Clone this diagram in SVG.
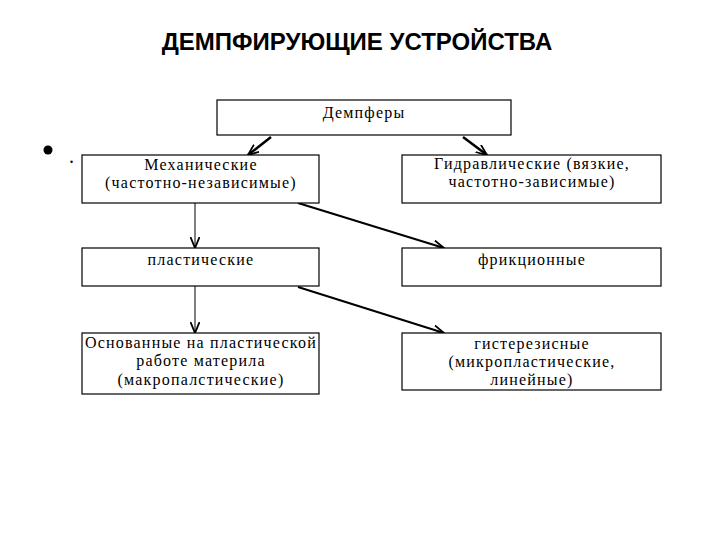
<svg xmlns="http://www.w3.org/2000/svg" width="720" height="540" viewBox="0 0 720 540">
<style>
.box{fill:#fff;stroke:#000;stroke-width:1.2}
.t{font-family:"Liberation Serif","DejaVu Serif",serif;font-size:16px;fill:#000;text-anchor:middle;letter-spacing:1.2px}
.title{font-family:"Liberation Sans",Arial,sans-serif;font-weight:bold;font-size:24px;text-anchor:middle;fill:#000}
.c{stroke:#000;fill:none}
</style>
<defs>
<marker id="ah" viewBox="0 0 12 10" refX="11" refY="5" markerWidth="12" markerHeight="10" markerUnits="userSpaceOnUse" orient="auto">
<path d="M0,0.5 L11,5 L0,9.5" fill="none" stroke="#000" stroke-width="1.8"/>
</marker>
</defs>
<rect width="720" height="540" fill="#fff"/>
<text class="title" x="357" y="50">ДЕМПФИРУЮЩИЕ УСТРОЙСТВА</text>
<circle cx="48" cy="150" r="4.5" fill="#000"/>
<text x="69" y="163" font-family="Liberation Serif,serif" font-size="20">.</text>
<g id="connectors">
<line class="c" x1="271" y1="137" x2="248" y2="155" stroke-width="2.5" marker-end="url(#ah)"/>
<line class="c" x1="463" y1="137" x2="487" y2="155" stroke-width="2.5" marker-end="url(#ah)"/>
<line class="c" x1="195" y1="203" x2="195" y2="248" stroke-width="1" marker-end="url(#ah)"/>
<line class="c" x1="298" y1="203" x2="444" y2="248" stroke-width="2" marker-end="url(#ah)"/>
<line class="c" x1="195" y1="286" x2="195" y2="333" stroke-width="1" marker-end="url(#ah)"/>
<line class="c" x1="298" y1="287" x2="444" y2="333" stroke-width="2" marker-end="url(#ah)"/>
</g>
<g id="n-dempfery">
<rect class="box" x="217" y="100" width="294" height="35"/>
<text class="t" x="364" y="118">Демпферы</text>
</g>
<g id="n-mech">
<rect class="box" x="82" y="155" width="237" height="48"/>
<text class="t" x="201" y="170">Механические</text>
<text class="t" x="201" y="188">(частотно-независимые)</text>
</g>
<g id="n-gidr">
<rect class="box" x="402" y="155" width="259" height="48"/>
<text class="t" x="532" y="169">Гидравлические (вязкие,</text>
<text class="t" x="532" y="187">частотно-зависимые)</text>
</g>
<g id="n-plast">
<rect class="box" x="82" y="248" width="237" height="38"/>
<text class="t" x="201" y="265">пластические</text>
</g>
<g id="n-frik">
<rect class="box" x="402" y="248" width="259" height="38"/>
<text class="t" x="532" y="265">фрикционные</text>
</g>
<g id="n-osn">
<rect class="box" x="82" y="333" width="237" height="61"/>
<text class="t" x="201" y="348">Основанные на пластической</text>
<text class="t" x="201" y="366">работе материла</text>
<text class="t" x="201" y="385">(макропалстические)</text>
</g>
<g id="n-gist">
<rect class="box" x="402" y="333" width="259" height="57"/>
<text class="t" x="532" y="349">гистерезисные</text>
<text class="t" x="532" y="367">(микропластические,</text>
<text class="t" x="532" y="385">линейные)</text>
</g>
</svg>
